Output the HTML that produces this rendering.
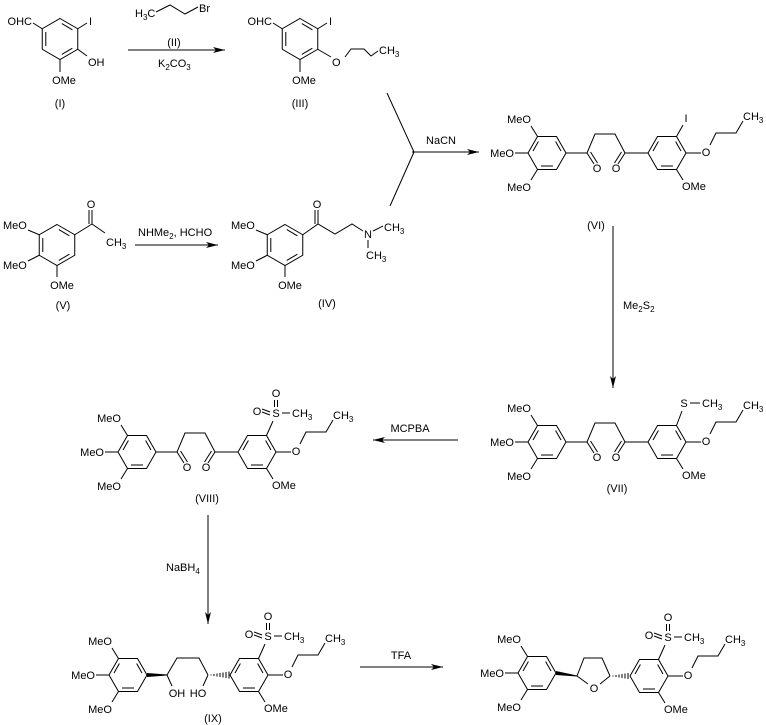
<!DOCTYPE html>
<html><head><meta charset="utf-8"><style>
html,body{margin:0;padding:0;background:#fff;}
svg{display:block;}
text{font-family:"Liberation Sans",Arial,sans-serif;font-size:11px;fill:#000;}
.s{font-size:8px;}
</style></head><body>
<svg width="766" height="725" viewBox="0 0 766 725" xmlns="http://www.w3.org/2000/svg">
<defs>
<g id="pr" stroke="#000" stroke-width="1" fill="none">
<polygon points="0,-20.5 17.75,-10.25 17.75,10.25 0,20.5 -17.75,10.25 -17.75,-10.25"/>
<line x1="1.8" y1="-15.4" x2="12.4" y2="-9.2"/><line x1="12.4" y1="9.2" x2="1.8" y2="15.4"/><line x1="-14.2" y1="7" x2="-14.2" y2="-7"/>
</g>
<g id="fr" stroke="#000" stroke-width="1" fill="none">
<polygon points="19,0 9.5,16.45 -9.5,16.45 -19,0 -9.5,-16.45 9.5,-16.45"/>
<line x1="8.6" y1="-11.5" x2="14" y2="-2"/><line x1="-6" y1="13" x2="6" y2="13"/><line x1="-8.6" y1="-11.5" x2="-14" y2="-2"/>
</g>
<g id="lt">
<use href="#fr"/>
<g stroke="#000"><line x1="-9.5" y1="-16.5" x2="-16" y2="-27"/><line x1="-19" y1="0" x2="-32" y2="0"/><line x1="-9.5" y1="16.5" x2="-16" y2="27"/></g>
<text x="-28" y="-30" text-anchor="middle">MeO</text>
<text x="-33" y="4" text-anchor="end">MeO</text>
<text x="-28" y="38" text-anchor="middle">MeO</text>
</g>
<g id="rt">
<use href="#fr"/>
<g stroke="#000" fill="none"><line x1="9.5" y1="16.5" x2="16" y2="27"/><line x1="19" y1="0" x2="34" y2="0"/>
<polyline points="43,-8 49,-20 69,-20 76,-32"/></g>
<text x="15" y="37">OMe</text>
<text x="39" y="3" text-anchor="middle">O</text>
<text x="76" y="-33">CH<tspan class="s" dy="3">3</tspan></text>
</g>
<g id="so2">
<g stroke="#000"><line x1="9.5" y1="-16.5" x2="16" y2="-31"/>
<line x1="17.5" y1="-45" x2="17.5" y2="-52"/><line x1="20.5" y1="-45" x2="20.5" y2="-52"/>
<line x1="5" y1="-43" x2="13" y2="-40"/><line x1="5" y1="-40" x2="13" y2="-37"/>
<line x1="25" y1="-39" x2="33" y2="-39"/></g>
<text x="19" y="-35" text-anchor="middle">S</text>
<text x="19" y="-55" text-anchor="middle">O</text>
<text x="0" y="-37" text-anchor="middle">O</text>
<text x="35" y="-35">CH<tspan class="s" dy="3">3</tspan></text>
</g>
<g id="core">
<use href="#lt"/>
<g stroke="#000" fill="none"><polyline points="19,0 40,0 48,-19 68,-19 78,0 101,0"/>
<line x1="40" y1="0" x2="47" y2="11"/><line x1="43.5" y1="-1" x2="50.5" y2="10"/>
<line x1="78" y1="0" x2="71" y2="11"/><line x1="74.5" y1="-1" x2="67.5" y2="10"/></g>
<text x="50" y="19" text-anchor="middle">O</text>
<text x="69" y="19" text-anchor="middle">O</text>
<g transform="translate(120,0)"><use href="#rt"/></g>
</g>
<g id="pcho">
<use href="#pr"/>
<g stroke="#000"><line x1="-17.75" y1="-10.25" x2="-27" y2="-16"/><line x1="17.75" y1="-10.25" x2="27" y2="-16"/><line x1="0" y1="20.5" x2="0" y2="33"/></g>
<text x="-28" y="-14" text-anchor="end">OHC</text>
<text x="29" y="-14">I</text>
<text x="4" y="45" text-anchor="middle">OMe</text>
</g>
<marker id="ah" markerWidth="12" markerHeight="6" refX="12" refY="3" orient="auto" markerUnits="userSpaceOnUse"><polygon points="0,0 12,3 0,6 3,3" fill="#000"/></marker>
</defs>

<!-- I -->
<g transform="translate(60,39)"><use href="#pcho"/>
<line x1="17.75" y1="10.25" x2="27" y2="17" stroke="#000"/><text x="28" y="27">OH</text></g>
<text x="60" y="107" text-anchor="middle">(I)</text>
<!-- II arrow -->
<line x1="128" y1="50" x2="225" y2="50" stroke="#000" marker-end="url(#ah)"/>
<text x="135" y="17">H<tspan class="s" dy="3">3</tspan><tspan dy="-3">C</tspan></text>
<polyline points="156,12 170,5 185,14 198,7" stroke="#000" fill="none"/>
<text x="199" y="12">Br</text>
<text x="174" y="46" text-anchor="middle">(II)</text>
<text x="158" y="67">K<tspan class="s" dy="3">2</tspan><tspan dy="-3">CO</tspan><tspan class="s" dy="3">3</tspan></text>
<!-- III -->
<g transform="translate(300,39)"><use href="#pcho"/>
<g stroke="#000" fill="none"><line x1="17.75" y1="10.25" x2="31" y2="18"/><polyline points="45,18 51,10 64,10 71,17 78,12"/></g>
<text x="32" y="27">O</text><text x="79" y="15">CH<tspan class="s" dy="3">3</tspan></text></g>
<text x="300" y="107" text-anchor="middle">(III)</text>
<!-- converging -->
<g stroke="#000" fill="none"><line x1="387" y1="93" x2="414" y2="152"/><line x1="390" y1="206" x2="414" y2="152"/>
<line x1="412" y1="152" x2="479" y2="152" marker-end="url(#ah)"/></g>
<text x="441" y="144" text-anchor="middle">NaCN</text>
<!-- V -->
<g transform="translate(57,245)"><use href="#pr"/></g>
<g stroke="#000" fill="none"><line x1="28" y1="230" x2="39.25" y2="234.75"/><line x1="28" y1="261" x2="39.25" y2="255.25"/>
<line x1="57" y1="265.5" x2="57" y2="277"/><line x1="74.75" y1="234.75" x2="92" y2="224"/>
<line x1="92" y1="224" x2="92" y2="210"/><line x1="89" y1="224" x2="89" y2="210"/><line x1="92" y1="224" x2="105" y2="233"/></g>
<text x="3" y="229">MeO</text><text x="3" y="269">MeO</text><text x="62" y="289" text-anchor="middle">OMe</text>
<text x="91" y="208" text-anchor="middle">O</text><text x="106" y="246">CH<tspan class="s" dy="3">3</tspan></text>
<text x="63" y="309" text-anchor="middle">(V)</text>
<line x1="135" y1="245" x2="218" y2="245" stroke="#000" marker-end="url(#ah)"/>
<text x="138" y="236">NHMe<tspan class="s" dy="3">2</tspan><tspan dy="-3">, HCHO</tspan></text>
<!-- IV -->
<g transform="translate(285,245)"><use href="#pr"/></g>
<g stroke="#000" fill="none"><line x1="256" y1="230" x2="267.25" y2="234.75"/><line x1="256" y1="261" x2="267.25" y2="255.25"/>
<line x1="285" y1="265.5" x2="285" y2="277"/><polyline points="302.75,234.75 318,224 335,234 352,224 363,231"/>
<line x1="318" y1="224" x2="318" y2="210"/><line x1="315" y1="224" x2="315" y2="210"/>
<line x1="373" y1="231" x2="383" y2="226"/><line x1="368" y1="240" x2="368" y2="248"/></g>
<text x="231" y="229">MeO</text><text x="231" y="269">MeO</text><text x="290" y="289" text-anchor="middle">OMe</text>
<text x="317" y="208" text-anchor="middle">O</text><text x="368" y="238" text-anchor="middle">N</text>
<text x="384" y="231">CH<tspan class="s" dy="3">3</tspan></text><text x="366" y="259">CH<tspan class="s" dy="3">3</tspan></text>
<text x="327" y="307" text-anchor="middle">(IV)</text>
<!-- VI -->
<g transform="translate(547,153)"><use href="#core"/>
<line x1="129.5" y1="-16.5" x2="136" y2="-28" stroke="#000"/><text x="139" y="-31" text-anchor="middle">I</text></g>
<text x="596" y="229" text-anchor="middle">(VI)</text>
<line x1="613" y1="226" x2="613" y2="388" stroke="#000" marker-end="url(#ah)"/>
<text x="623" y="309">Me<tspan class="s" dy="3">2</tspan><tspan dy="-3">S</tspan><tspan class="s" dy="3">2</tspan></text>
<!-- VII -->
<g transform="translate(547,442)"><use href="#core"/>
<g transform="translate(120,0)" stroke="#000"><line x1="9.5" y1="-16.5" x2="15" y2="-31"/><line x1="23" y1="-39" x2="33" y2="-39"/></g>
<text x="137" y="-35" text-anchor="middle">S</text><text x="155" y="-35">CH<tspan class="s" dy="3">3</tspan></text></g>
<text x="617" y="492" text-anchor="middle">(VII)</text>
<line x1="458" y1="440" x2="373" y2="440" stroke="#000" marker-end="url(#ah)"/>
<text x="410" y="432" text-anchor="middle">MCPBA</text>
<!-- VIII -->
<g transform="translate(137,452)"><use href="#core"/><g transform="translate(120,0)"><use href="#so2"/></g></g>
<text x="207" y="502" text-anchor="middle">(VIII)</text>
<line x1="208" y1="515" x2="208" y2="624" stroke="#000" marker-end="url(#ah)"/>
<text x="166" y="571">NaBH<tspan class="s" dy="3">4</tspan></text>
<!-- IX -->
<g transform="translate(128,675)"><use href="#lt"/></g>
<g transform="translate(249,675)"><use href="#rt"/><use href="#so2"/></g>
<polygon points="147,673 147,677 167,675.5 167,674.5" fill="#000"/>
<g stroke="#000" fill="none"><polyline points="167,675 177,658 199,658 208,675"/>
<line x1="167" y1="675" x2="172" y2="686"/><line x1="208" y1="675" x2="203" y2="686"/>
<path d="M211,674.5v1M214,674v2M217,673.5v3M220,673v4M223,672.5v5M226,672v6M229,671.5v7"/></g>
<text x="177" y="697" text-anchor="middle">OH</text><text x="198" y="697" text-anchor="middle">HO</text>
<text x="213" y="722" text-anchor="middle">(IX)</text>
<line x1="360" y1="667" x2="443" y2="667" stroke="#000" marker-end="url(#ah)"/>
<text x="401" y="659" text-anchor="middle">TFA</text>
<!-- X -->
<g transform="translate(537,673)"><use href="#lt"/></g>
<g transform="translate(649,676)"><use href="#rt"/><use href="#so2"/></g>
<polygon points="556,671 556,675 577,676.5 577,675.5" fill="#000"/>
<g stroke="#000" fill="none"><polyline points="577,676 584,658 602,658 610,676"/>
<line x1="577" y1="676" x2="588" y2="684"/><line x1="610" y1="676" x2="600" y2="684"/>
<path d="M613,675.5v1M616,675v2M619,674.5v3M622,674v4M625,673.5v5M628,673v6"/></g>
<text x="594" y="692" text-anchor="middle">O</text>
</svg>
</body></html>
